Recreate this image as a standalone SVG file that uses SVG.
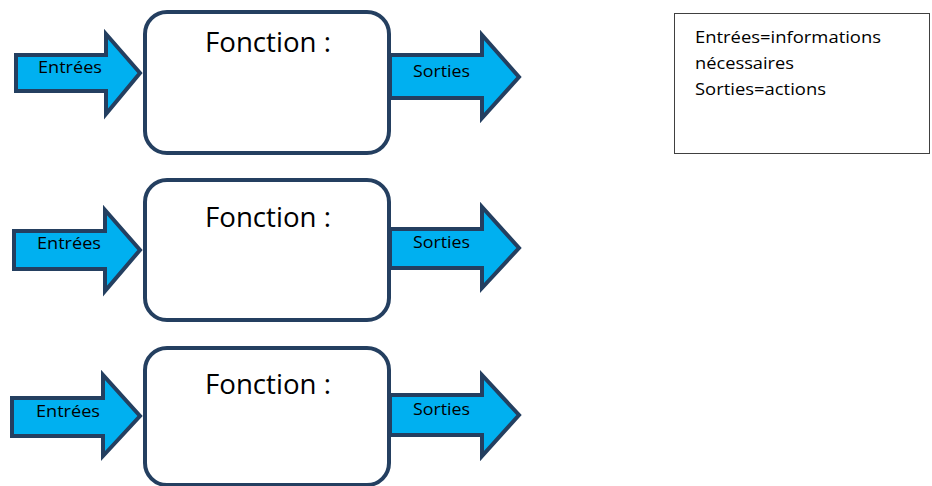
<svg xmlns="http://www.w3.org/2000/svg" width="932" height="486" viewBox="0 0 932 486">
  <style>
    .box { fill: #ffffff; stroke: #243f60; stroke-width: 4; }
    .arrow { fill: #00b0f0; stroke: #243f60; stroke-width: 4; stroke-linejoin: miter; stroke-miterlimit: 10; }
    .title { font-family: "Open Sans", "Liberation Sans", sans-serif; font-size: 28px; fill: #000000; }
    .lbl { font-family: "Open Sans", "Liberation Sans", sans-serif; font-size: 16.5px; fill: #000000; }
    .legend { fill: #ffffff; stroke: #404040; stroke-width: 1; }
    .note { font-family: "Open Sans", "Liberation Sans", sans-serif; font-size: 17px; fill: #000000; }
  </style>

  <rect width="932" height="486" fill="#ffffff"/>

  <!-- function blocks -->
  <g id="fonction-1">
    <rect class="box" x="145" y="12" width="244" height="141" rx="22" ry="22"/>
    <text class="title" x="205" y="52" textLength="126" lengthAdjust="spacingAndGlyphs">Fonction :</text>
  </g>
  <g id="fonction-2">
    <rect class="box" x="145" y="180" width="244" height="140" rx="22" ry="22"/>
    <text class="title" x="205" y="227" textLength="126" lengthAdjust="spacingAndGlyphs">Fonction :</text>
  </g>
  <g id="fonction-3">
    <rect class="box" x="145" y="348" width="244" height="137" rx="22" ry="22"/>
    <text class="title" x="205" y="394" textLength="126" lengthAdjust="spacingAndGlyphs">Fonction :</text>
  </g>

  <!-- input / output block arrows -->
  <g id="connectors">
    <g id="entrees-1">
      <path class="arrow" d="M16,55 L106,55 L106,34 L140,73 L106,114 L106,91 L16,91 Z"/>
      <text class="lbl" x="38" y="73" textLength="64" lengthAdjust="spacingAndGlyphs">Entrées</text>
    </g>
    <g id="sorties-1">
      <path class="arrow" d="M390,55 L482,55 L482,35 L519,77 L482,118 L482,98 L390,98 Z"/>
      <text class="lbl" x="413" y="77" textLength="57" lengthAdjust="spacingAndGlyphs">Sorties</text>
    </g>
    <g id="entrees-2">
      <path class="arrow" d="M14,231 L105,231 L105,210 L140,250 L105,291 L105,269 L14,269 Z"/>
      <text class="lbl" x="37" y="249" textLength="64" lengthAdjust="spacingAndGlyphs">Entrées</text>
    </g>
    <g id="sorties-2">
      <path class="arrow" d="M390,229 L482,229 L482,207 L519,248 L482,288 L482,268 L390,268 Z"/>
      <text class="lbl" x="413" y="248" textLength="57" lengthAdjust="spacingAndGlyphs">Sorties</text>
    </g>
    <g id="entrees-3">
      <path class="arrow" d="M12,398 L103,398 L103,375 L140,416 L103,456 L103,436 L12,436 Z"/>
      <text class="lbl" x="36" y="417" textLength="64" lengthAdjust="spacingAndGlyphs">Entrées</text>
    </g>
    <g id="sorties-3">
      <path class="arrow" d="M390,395 L482,395 L482,375 L519,415 L482,456 L482,435 L390,435 Z"/>
      <text class="lbl" x="413" y="415" textLength="57" lengthAdjust="spacingAndGlyphs">Sorties</text>
    </g>
  </g>

  <!-- legend -->
  <g id="legende">
    <rect class="legend" x="674.5" y="13.5" width="255" height="140"/>
    <text class="note" x="695" y="43" textLength="186" lengthAdjust="spacingAndGlyphs">Entrées=informations</text>
    <text class="note" x="695" y="69" textLength="99" lengthAdjust="spacingAndGlyphs">nécessaires</text>
    <text class="note" x="695" y="95" textLength="131" lengthAdjust="spacingAndGlyphs">Sorties=actions</text>
  </g>
</svg>
